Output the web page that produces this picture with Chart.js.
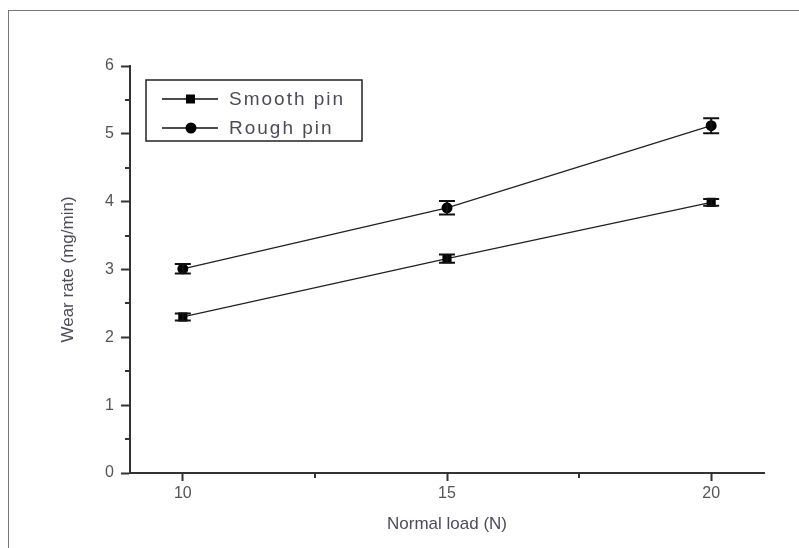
<!DOCTYPE html>
<html>
<head>
<meta charset="utf-8">
<script src="https://cdn.jsdelivr.net/npm/chart.js@4.4.1/dist/chart.umd.min.js"></script>
<style>
  html, body { margin: 0; padding: 0; background: #fff; }
  #wrap { position: relative; width: 799px; height: 548px; }
  #frame { position: absolute; left: 8px; top: 10px; right: 0; bottom: 0;
           border-left: 1px solid #777; border-top: 1px solid #777; }
  canvas { position: absolute; left: 0; top: 0; }
</style>
</head>
<body>
<div id="wrap">
  <div id="frame"></div>
  <canvas id="wearChart" width="799" height="548"></canvas>
</div>
<script>
const loads = [10, 15, 20];
const smoothPin = [2.30, 3.16, 3.99];
const roughPin = [3.01, 3.91, 5.12];
const smoothErr = [0.05, 0.06, 0.05];
const roughErr = [0.07, 0.10, 0.11];
const xTicks = [10, 15, 20];
const yTicks = [0, 1, 2, 3, 4, 5, 6];

const textColor = "#4e4a5c";

// error bars, minor ticks and legend box
const extras = {
    id: "extras",
    afterDatasetsDraw(chart) {
        const ctx = chart.ctx;
        const xs = chart.scales.x, ys = chart.scales.y;
        const errs = [smoothErr, roughErr];
        ctx.save();
        ctx.strokeStyle = "#111";
        ctx.lineWidth = 2;
        chart.data.datasets.forEach((ds, i) => {
            ds.data.forEach((p, j) => {
                const px = xs.getPixelForValue(p.x);
                const top = ys.getPixelForValue(p.y + errs[i][j]);
                const bot = ys.getPixelForValue(p.y - errs[i][j]);
                ctx.beginPath();
                ctx.moveTo(px, top); ctx.lineTo(px, bot);
                ctx.moveTo(px - 8, top); ctx.lineTo(px + 8, top);
                ctx.moveTo(px - 8, bot); ctx.lineTo(px + 8, bot);
                ctx.stroke();
            });
        });
        ctx.restore();
    },
    afterDraw(chart) {
        const ctx = chart.ctx;
        const xs = chart.scales.x, ys = chart.scales.y;
        ctx.save();
        ctx.strokeStyle = "#333";
        ctx.lineWidth = 2;
        ctx.beginPath();
        for (let v = 0.5; v < 6; v += 1) {
            const py = Math.round(ys.getPixelForValue(v));
            ctx.moveTo(xs.left - 5, py); ctx.lineTo(xs.left, py);
        }
        [12.5, 17.5].forEach(v => {
            const px = Math.round(xs.getPixelForValue(v));
            ctx.moveTo(px, ys.bottom); ctx.lineTo(px, ys.bottom + 5);
        });
        ctx.stroke();

        // legend
        const lx = 146, ly = 80, lw = 216, lh = 61;
        ctx.lineWidth = 1.5;
        ctx.strokeStyle = "#222";
        ctx.strokeRect(lx, ly, lw, lh);
        chart.data.datasets.forEach((ds, i) => {
            const cy = ly + 19 + i * 29;
            ctx.strokeStyle = "#111";
            ctx.lineWidth = 1.5;
            ctx.beginPath();
            ctx.moveTo(162, cy); ctx.lineTo(218, cy);
            ctx.stroke();
            ctx.fillStyle = "#000";
            if (i === 0) {
                ctx.fillRect(186, cy - 4.5, 9, 9);
            } else {
                ctx.beginPath();
                ctx.arc(191, cy, 5.5, 0, Math.PI * 2);
                ctx.fill();
            }
            ctx.fillStyle = textColor;
            ctx.font = "19px 'Liberation Sans', Arial, sans-serif";
            ctx.letterSpacing = "2px";
            ctx.textBaseline = "middle";
            ctx.fillText(ds.label, 229, cy + 1);
        });
        ctx.restore();
    }
};

new Chart(document.getElementById("wearChart").getContext("2d"), {
    type: "line",
    data: {
        datasets: [{
            label: "Smooth pin",
            data: loads.map((x, i) => ({ x: x, y: smoothPin[i] })),
            borderColor: "#222",
            borderWidth: 1.3,
            backgroundColor: "#000",
            pointStyle: "rect",
            pointRadius: 6.5,
            pointBorderWidth: 0,
            tension: 0
        }, {
            label: "Rough pin",
            data: loads.map((x, i) => ({ x: x, y: roughPin[i] })),
            borderColor: "#222",
            borderWidth: 1.3,
            backgroundColor: "#000",
            pointStyle: "circle",
            pointRadius: 5.5,
            pointBorderWidth: 0,
            tension: 0
        }]
    },
    options: {
        responsive: false,
        animation: false,
        layout: { padding: { top: 66, right: 35, left: 0, bottom: 0 } },
        plugins: { legend: { display: false }, tooltip: { enabled: false } },
        scales: {
            x: {
                type: "linear",
                min: 9, max: 21,
                afterBuildTicks: s => { s.ticks = xTicks.map(v => ({ value: v })); },
                afterFit: s => { s.height = 75; },
                border: { color: "#333", width: 2 },
                grid: { drawOnChartArea: false, tickLength: 8, tickColor: "#333", tickWidth: 2 },
                ticks: { color: "#555", padding: 3, font: { family: "'Liberation Sans', Arial", size: 16 } },
                title: {
                    display: true, text: "Normal load (N)", color: textColor,
                    padding: { top: 0, bottom: 13 },
                    font: { family: "'Liberation Sans', Arial", size: 17 }
                }
            },
            y: {
                min: 0, max: 6,
                afterBuildTicks: s => { s.ticks = yTicks.map(v => ({ value: v })); },
                afterFit: s => { s.width = 130; },
                border: { color: "#333", width: 2 },
                grid: { drawOnChartArea: false, tickLength: 9, tickColor: "#333", tickWidth: 2 },
                ticks: { color: "#555", padding: 7, font: { family: "'Liberation Sans', Arial", size: 16 } },
                title: {
                    display: true, text: "Wear rate (mg/min)", color: textColor,
                    padding: { top: 58, bottom: 0 },
                    font: { family: "'Liberation Sans', Arial", size: 17 }
                }
            }
        }
    },
    plugins: [extras]
});
</script>
</body>
</html>
